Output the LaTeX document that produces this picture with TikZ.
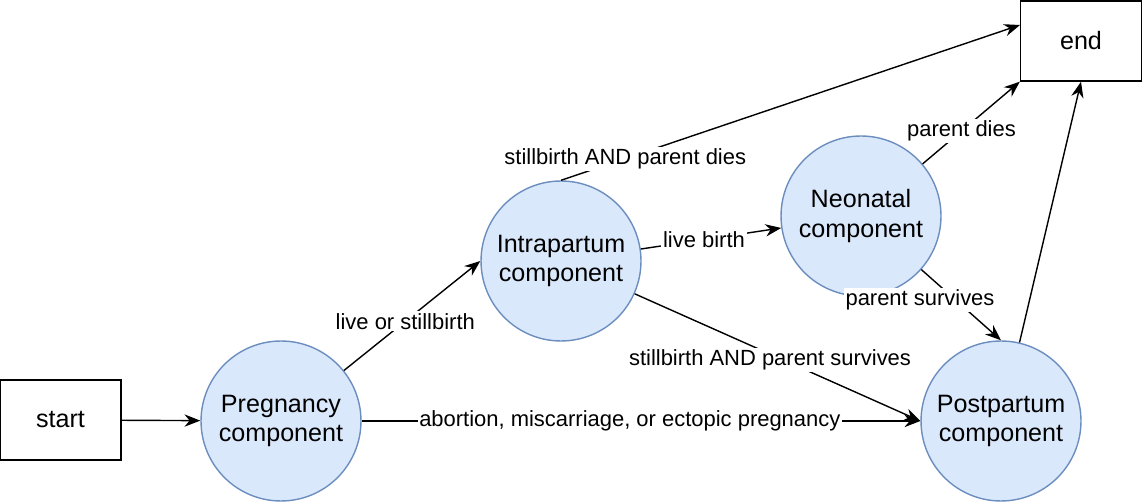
\documentclass[tikz,border=0pt]{standalone}
\usepackage{fontspec}
\setmainfont{Liberation Sans}
\usetikzlibrary{arrows.meta}
\definecolor{cfill}{HTML}{DAE8FC}
\definecolor{cdraw}{HTML}{6C8EBF}
\begin{document}
\begin{tikzpicture}[x=0.02cm,y=-0.02cm,
 comp/.style={circle,draw=cdraw,fill=cfill,line width=0.8pt,minimum size=3.2cm,inner sep=0pt,align=center,font=\fontsize{14.3}{17}\selectfont},
 term/.style={rectangle,draw,line width=0.8pt,minimum width=2.42cm,minimum height=1.6cm,font=\fontsize{14.3}{17}\selectfont},
 conn/.style={line width=0.8pt,-{Stealth[length=9pt,width=7pt]}},
 lab/.style={fill=white,inner sep=1pt,font=\fontsize{12.5}{14}\selectfont}]
\useasboundingbox (0,0) rectangle (1142,502);
\node[term] (start) at (60.5,420) {start};
\node[term] (end) at (1081,41) {end};
\node[comp] (preg) at (281,421) {Pregnancy\\component};
\node[comp] (intra) at (561,261) {Intrapartum\\component};
\node[comp] (neo) at (861,216) {Neonatal\\component};
\node[comp] (post) at (1001,421) {Postpartum\\component};
\coordinate (endin) at (1020,25);
\draw[conn] (start) -- (preg);
\draw[conn] (preg) -- node[lab,pos=0.45] {live or stillbirth} (intra.west);
\draw[conn] (preg) -- node[lab,pos=0.48] {abortion, miscarriage, or ectopic pregnancy} (post);
\draw[conn] (intra.north) -- node[lab,pos=0.14] {stillbirth AND parent dies} (endin);
\draw[conn] (intra) -- node[lab,pos=0.45] {live birth} (neo);
\draw[conn] (intra) -- (post.west);
\node[lab] (l1) at (770,360) {stillbirth AND parent survives};
\draw[conn] (neo) -- node[lab,pos=0.4] {parent dies} (end.south west);
\draw[conn] (neo) -- (post.north);
\node[lab] (l2) at (920,300) {parent survives};
\draw[conn] (post) -- (end.south);
\end{tikzpicture}
\end{document}
